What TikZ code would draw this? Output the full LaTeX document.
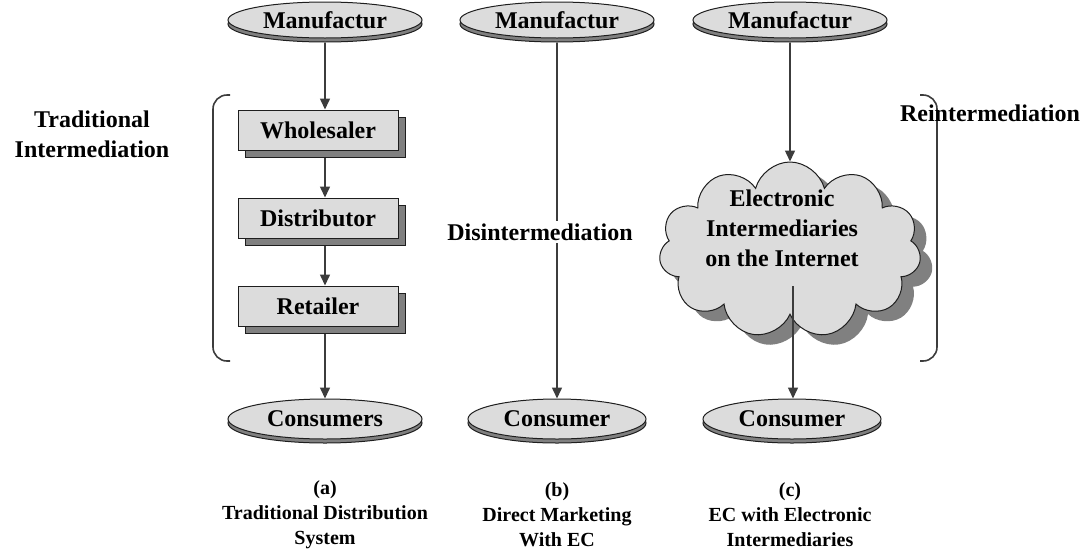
\documentclass[tikz,border=0pt]{standalone}
\usepackage{fontspec}
\setmainfont{Liberation Serif}
\usetikzlibrary{arrows.meta,shapes.geometric,shapes.symbols,shadows,calc}
\definecolor{paleface}{HTML}{DCDCDC}
\definecolor{shade}{HTML}{808080}
\definecolor{ink}{HTML}{1E1E1E}
\definecolor{rule}{HTML}{3C3C3C}

\begin{document}
\begin{tikzpicture}[x=1pt,y=-1pt,
  big/.style={font=\fontsize{24}{30}\selectfont\bfseries},
  small/.style={font=\fontsize{20}{25}\selectfont\bfseries},
  oval/.style={ellipse, draw=ink, line width=1pt, fill=paleface,
    minimum width=194pt, minimum height=36pt, inner sep=0pt, big,
    copy shadow={shadow xshift=0pt, shadow yshift=-4pt, fill=shade, draw=ink, line width=1pt}},
  stage/.style={rectangle, draw=ink, line width=1pt, fill=paleface,
    minimum width=160pt, minimum height=40pt, inner sep=0pt, big,
    copy shadow={shadow xshift=7pt, shadow yshift=-7pt, fill=shade, draw=ink, line width=1pt}},
  puff/.style={cloud, cloud puffs=11, aspect=1.55, draw=ink, line width=1pt, fill=paleface,
    minimum width=262pt, minimum height=176pt, inner sep=0pt,
    copy shadow={shadow xshift=12pt, shadow yshift=-10pt, fill=shade, draw=none}},
  flow/.style={draw=rule, line width=1.5pt, -{Triangle[length=11pt,width=10pt]}},
  brace/.style={draw=rule, line width=1.6pt, rounded corners=14pt},
  caption/.style={small, align=center},
]
\useasboundingbox (0,0) rectangle (1083,552);

% brackets grouping the intermediaries
\draw[brace] (230,95) -- (213,95) -- (213,361) -- (230,361);
\draw[brace] (920,95) -- (937,95) -- (937,361) -- (920,361);

% column (a): traditional chain
\node[oval] (maker-a) at (325,20) {Manufactur};
\node[stage] (wholesaler) at (318,130) {Wholesaler};
\node[stage] (distributor) at (318,218) {Distributor};
\node[stage] (retailer) at (318,306) {Retailer};
\node[oval, minimum height=40pt] (buyer-a) at (325,419) {Consumers};

\draw[flow] ([yshift=-4pt]maker-a.south) -- (maker-a.south |- wholesaler.north);
\draw[flow] ([yshift=-7pt]wholesaler.south -| maker-a.center) -- (distributor.north -| maker-a.center);
\draw[flow] ([yshift=-7pt]distributor.south -| maker-a.center) -- (retailer.north -| maker-a.center);
\draw[flow] ([yshift=-7pt]retailer.south -| maker-a.center) -- (buyer-a.north);

% column (b): direct marketing
\node[oval] (maker-b) at (557,20) {Manufactur};
\node[oval, minimum width=178pt, minimum height=40pt] (buyer-b) at (557,419) {Consumer};
\draw[flow] ([yshift=-4pt]maker-b.south) -- (buyer-b.north);
\node[big, fill=white, inner sep=3pt] (disinter) at (540,232) {Disintermediation};

% column (c): electronic intermediaries
\node[oval] (maker-c) at (790,20) {Manufactur};
\node[puff] (cloud) at (790,250) {};
\node[big, align=center] (cloudtext) at (782,228) {Electronic\\Intermediaries\\on the Internet};
\node[oval, minimum width=178pt, minimum height=40pt] (buyer-c) at (792,419) {Consumer};
\coordinate (cloud-exit) at (793,286);
\draw[flow] ([yshift=-4pt]maker-c.south) -- (maker-c.south |- cloud.north);
\draw[flow] (cloud-exit) -- (cloud-exit |- buyer-c.north);

% side labels
\node[big, align=center] (trad) at (92,134) {Traditional\\Intermediation};
\node[big] (reinter) at (990,113) {Reintermediation};

% captions
\node[caption] (cap-a) at (325,515) {(a)\\Traditional Distribution\\System};
\node[caption] (cap-b) at (557,515) {(b)\\Direct Marketing\\With EC};
\node[caption] (cap-c) at (790,515) {(c)\\EC with Electronic\\Intermediaries};
\end{tikzpicture}
\end{document}
